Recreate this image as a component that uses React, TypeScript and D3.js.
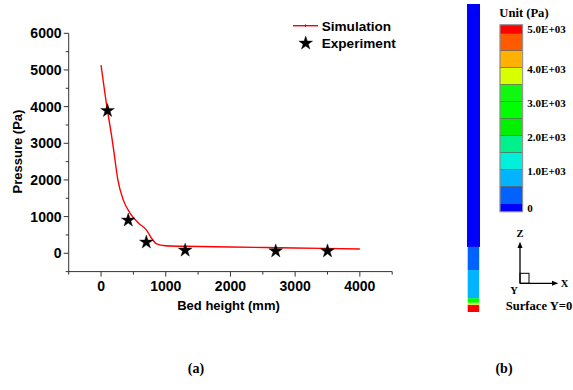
import React, { useRef, useEffect } from "react";
import * as d3 from "d3";

// (a) pressure profile along the bed
const simHeight = [0, 90, 165, 200, 260, 345, 450, 580, 700, 780, 860, 990, 1300, 2000, 3000, 4000];
const simPressure = [5130, 4000, 3180, 2750, 2000, 1450, 1090, 820, 640, 410, 255, 205, 190, 170, 145, 118];
const expHeight = [100, 420, 700, 1300, 2700, 3500];
const expPressure = [3890, 900, 300, 80, 60, 60];
const xTicks = [0, 1000, 2000, 3000, 4000];
const yTicks = [0, 1000, 2000, 3000, 4000, 5000, 6000];
const legendLabels = ["Simulation", "Experiment"];

// (b) contour legend
const bandThresholds = [0, 500, 1000, 1500, 2000, 2500, 3000, 3500, 4000, 4500, 5000];
const bandColors = [
  "#0000ff", "#0062ff", "#00b4ff", "#00f0dc", "#00f08c", "#00f000",
  "#00ff00", "#10f810", "#d8ff00", "#ffb000", "#ff5a00", "#ff0000",
];
const barTicks = [0, 1000, 2000, 3000, 4000, 5000];
const barTickLabels = ["0", "1.0E+03", "2.0E+03", "3.0E+03", "4.0E+03", "5.0E+03"];

// column contour: segments along the height (mm) with pressure (Pa)
const stripFrom = [0, 95, 120, 180, 545, 845];
const stripTo = [95, 120, 180, 545, 845, 4000];
const stripPressure = [5100, 3800, 2800, 700, 300, -50];

const SANS = "'Liberation Sans', Arial, sans-serif";
const SERIF = "'Liberation Serif', 'Times New Roman', serif";

export default function App() {
  const svgRef = useRef<SVGSVGElement>(null);

  useEffect(() => {
    const svg = d3.select(svgRef.current);
    svg.selectAll("*").remove();

    const x = d3.scaleLinear().domain([-500, 4500]).range([68.7, 392.2]);
    const y = d3.scaleLinear().domain([-500, 6000]).range([271.6, 33.3]);
    const g = svg.append("g");

    // axes (only left and bottom, ticks outward)
    const axisColor = "#333";
    const xMinor = d3.range(-500, 4501, 500);
    const yMinor = d3.range(-500, 6001, 500);
    g.append("line")
      .attr("x1", x(-500)).attr("x2", x(4500))
      .attr("y1", y(-500)).attr("y2", y(-500))
      .attr("stroke", axisColor);
    g.append("line")
      .attr("x1", x(-500)).attr("x2", x(-500))
      .attr("y1", y(-500)).attr("y2", y(6000))
      .attr("stroke", axisColor);
    g.selectAll(".xt")
      .data(xMinor)
      .join("line")
      .attr("x1", (d) => x(d)).attr("x2", (d) => x(d))
      .attr("y1", y(-500))
      .attr("y2", (d) => y(-500) + (d % 1000 === 0 ? 5 : 3))
      .attr("stroke", axisColor);
    g.selectAll(".yt")
      .data(yMinor)
      .join("line")
      .attr("y1", (d) => y(d)).attr("y2", (d) => y(d))
      .attr("x1", x(-500))
      .attr("x2", (d) => x(-500) - (d % 1000 === 0 ? 5 : 3))
      .attr("stroke", axisColor);

    g.selectAll(".xl")
      .data(xTicks)
      .join("text")
      .attr("x", (d) => x(d))
      .attr("y", 291)
      .attr("text-anchor", "middle")
      .attr("font-family", SANS)
      .attr("font-weight", "bold")
      .attr("font-size", 14)
      .text((d) => d);
    g.selectAll(".yl")
      .data(yTicks)
      .join("text")
      .attr("x", 61.5)
      .attr("y", (d) => y(d))
      .attr("dy", "0.36em")
      .attr("text-anchor", "end")
      .attr("font-family", SANS)
      .attr("font-weight", "bold")
      .attr("font-size", 14)
      .text((d) => d);

    g.append("text")
      .attr("x", 228.5).attr("y", 310)
      .attr("text-anchor", "middle")
      .attr("font-family", SANS).attr("font-weight", "bold").attr("font-size", 13)
      .text("Bed height (mm)");
    g.append("text")
      .attr("transform", "translate(22,151.5) rotate(-90)")
      .attr("text-anchor", "middle")
      .attr("font-family", SANS).attr("font-weight", "bold").attr("font-size", 13)
      .text("Pressure (Pa)");

    // simulation line
    const line = d3.line<number>()
      .x((d, i) => x(simHeight[i]))
      .y((d) => y(d))
      .curve(d3.curveMonotoneX);
    g.append("path")
      .attr("d", line(simPressure))
      .attr("fill", "none")
      .attr("stroke", "#ff0000")
      .attr("stroke-width", 1.4);

    // experiment stars
    const star = d3.symbol().type(d3.symbolStar).size(58);
    g.selectAll(".star")
      .data(expPressure)
      .join("path")
      .attr("d", star())
      .attr("transform", (d, i) => `translate(${x(expHeight[i])},${y(d)})`)
      .attr("fill", "#000")
      .attr("stroke", "#000")
      .attr("stroke-width", 0.4);

    // legend
    g.append("line")
      .attr("x1", 293).attr("x2", 318).attr("y1", 25.7).attr("y2", 25.7)
      .attr("stroke", "#ff0000").attr("stroke-width", 1.4);
    g.append("line")
      .attr("x1", 305.5).attr("x2", 305.5).attr("y1", 24.5).attr("y2", 27)
      .attr("stroke", "#cc0000").attr("stroke-width", 1);
    g.append("path")
      .attr("d", star())
      .attr("transform", "translate(305.7,43.3)")
      .attr("fill", "#000")
      .attr("stroke", "#000")
      .attr("stroke-width", 0.4);
    g.selectAll(".leg")
      .data(legendLabels)
      .join("text")
      .attr("x", 321.7)
      .attr("y", (d, i) => 30.5 + i * 17.6)
      .attr("font-family", SANS).attr("font-weight", "bold").attr("font-size", 13.6)
      .text((d) => d);

    // (b) column contour
    const color = d3.scaleThreshold<number, string>().domain(bandThresholds).range(bandColors);
    const z = d3.scaleLinear().domain([0, 4000]).range([312, 4]);
    g.selectAll(".seg")
      .data(stripPressure)
      .join("rect")
      .attr("x", (d, i) => (i < 5 ? 467.7 : 467))
      .attr("width", (d, i) => (i < 5 ? 11.5 : 13))
      .attr("y", (d, i) => z(stripTo[i]))
      .attr("height", (d, i) => z(stripFrom[i]) - z(stripTo[i]))
      .attr("fill", (d) => color(d));

    // colour bar
    const cb = d3.scaleLinear().domain([0, 5000]).range([203.3, 33.3]);
    const lo = [-250, ...bandThresholds];
    const hi = [...bandThresholds, 5250];
    g.selectAll(".band")
      .data(bandColors)
      .join("rect")
      .attr("x", 500)
      .attr("width", 22.7)
      .attr("y", (d, i) => cb(hi[i]))
      .attr("height", (d, i) => cb(lo[i]) - cb(hi[i]))
      .attr("fill", (d) => d)
      .attr("stroke", "#555")
      .attr("stroke-width", 0.5);
    g.append("rect")
      .attr("x", 500).attr("width", 22.7)
      .attr("y", cb(5250)).attr("height", cb(-250) - cb(5250))
      .attr("fill", "none").attr("stroke", "#999").attr("stroke-width", 1);
    g.selectAll(".cbl")
      .data(barTicks)
      .join("text")
      .attr("x", 527.3)
      .attr("y", (d) => (d === 5000 ? cb(5125) : d === 0 ? cb(-150) : cb(d) + 2))
      .attr("dy", "0.35em")
      .attr("font-family", SERIF).attr("font-weight", "bold").attr("font-size", 11)
      .text((d, i) => barTickLabels[i]);
    g.append("text")
      .attr("x", 499.3).attr("y", 16.5)
      .attr("font-family", SERIF).attr("font-weight", "bold").attr("font-size", 12.6)
      .text("Unit (Pa)");

    // coordinate triad
    const ox = 520, oy = 283.3;
    g.append("line").attr("x1", ox).attr("y1", oy).attr("x2", ox).attr("y2", 247)
      .attr("stroke", "#000").attr("stroke-width", 1.3);
    g.append("line").attr("x1", ox).attr("y1", oy).attr("x2", 553).attr("y2", oy)
      .attr("stroke", "#000").attr("stroke-width", 1.3);
    g.append("path").attr("d", `M${ox - 2.5},248 L${ox},241.7 L${ox + 2.5},248 Z`).attr("fill", "#000");
    g.append("path").attr("d", `M552,${oy - 2.5} L558.3,${oy} L552,${oy + 2.5} Z`).attr("fill", "#000");
    g.append("rect").attr("x", ox).attr("y", oy - 10).attr("width", 9).attr("height", 10)
      .attr("fill", "none").attr("stroke", "#000").attr("stroke-width", 1);
    const triad = [
      { t: "Z", x: 520, y: 233.5 },
      { t: "Y", x: 514, y: 290 },
      { t: "X", x: 564.5, y: 283.5 },
    ];
    g.selectAll(".tri")
      .data(triad)
      .join("text")
      .attr("x", (d) => d.x).attr("y", (d) => d.y)
      .attr("dy", "0.35em")
      .attr("text-anchor", "middle")
      .attr("font-family", SERIF).attr("font-weight", "bold").attr("font-size", 10.5)
      .text((d) => d.t);
    g.append("text")
      .attr("x", 539).attr("y", 309.5)
      .attr("text-anchor", "middle")
      .attr("font-family", SERIF).attr("font-weight", "bold").attr("font-size", 12.6)
      .text("Surface Y=0");

    // panel captions
    g.selectAll(".cap")
      .data(["(a)", "(b)"])
      .join("text")
      .attr("x", (d, i) => (i === 0 ? 196 : 504))
      .attr("y", 373)
      .attr("text-anchor", "middle")
      .attr("font-family", SERIF).attr("font-weight", "bold").attr("font-size", 14)
      .text((d) => d);
  }, []);

  return (
    <svg
      ref={svgRef}
      width={573}
      height={390}
      style={{ position: "absolute", left: 0, top: 0, background: "#fff" }}
    />
  );
}
